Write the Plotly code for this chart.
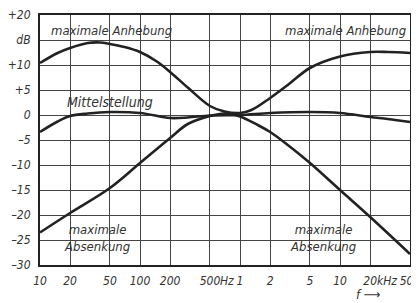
import math
import plotly.graph_objects as go

# ---- data ----
freq_boost = [10, 15, 20, 30, 40, 50, 70, 100, 150, 200, 300, 500, 700, 1000, 1300,
              2000, 3000, 5000, 10000, 20000, 30000, 50000]
gain_boost = [10.4, 12.4, 13.4, 14.4, 14.5, 14.2, 13.6, 12.6, 10.6, 8.6, 5.5, 1.8, 0.7,
              0.4, 1.0, 3.4, 6.0, 9.4, 11.7, 12.6, 12.6, 12.4]

freq_mid = [10, 15, 20, 30, 50, 100, 200, 300, 500, 1000, 2000, 5000, 10000, 20000,
            30000, 50000]
gain_mid = [-3.4, -1.3, -0.2, 0.3, 0.6, 0.4, -0.6, -0.5, -0.1, 0.0, 0.4, 0.6, 0.4,
            -0.4, -0.8, -1.4]

freq_cut = [10, 20, 50, 100, 200, 300, 500, 700, 1000, 1500, 2000, 3000, 5000, 10000,
            20000, 50000]
gain_cut = [-23.5, -19.6, -14.6, -9.6, -4.6, -1.8, -0.2, 0.3, -0.3, -2.0, -3.4, -6.0,
            -9.6, -15.0, -20.4, -27.8]

x_tickvals = [10, 20, 50, 100, 200, 500, 1000, 2000, 5000, 10000, 20000, 50000]
x_ticktext = ["10", "20", "50", "100", "200", "500", "1", "2", "5", "10", "20",
              "50\u00a0\u00a0"]
unit_labels = [("Hz", 500, 8), ("kHz", 20000, 5)]
y_tickvals = [-30, -25, -20, -15, -10, -5, 0, 5, 10, 15, 20]
y_ticktext = ["\u201330", "\u201325", "\u201320", "\u201315", "\u201310", "\u20135", "0",
              "+5", "+10", "dB", "+20"]

FONT = "Liberation Sans Narrow, DejaVu Sans Condensed, Arial Narrow, sans-serif"
INK = "#222222"
TXT = "#333333"

fig = go.Figure()
for fx, gy in [(freq_boost, gain_boost), (freq_mid, gain_mid), (freq_cut, gain_cut)]:
    fig.add_trace(go.Scatter(x=fx, y=gy, mode="lines",
                             line=dict(color=INK, width=2.6, shape="spline", smoothing=1.0),
                             hoverinfo="skip", showlegend=False))

# the page body has an 8px margin; the figure is sized so it fills the window
OFF = 8
W, H = 419 - OFF, 303 - OFF
PL, PR, PT, PB = 40, 409.7, 15, 265          # plot frame in window pixels
L, T = PL - OFF, PT - OFF
R, B = W - (PR - OFF), H - (PB - OFF)
pw, ph = PR - PL, PB - PT


def px(x):
    return (x - PL) / pw


def py(y):
    return (PB - y) / ph


# white label backgrounds (interrupt the grid like in the original)
boxes = [(46, 176, 17, 40), (281, 407, 17, 40), (64, 156, 94, 110),
         (60, 135, 217, 258), (285, 360, 217, 258)]
for x0, x1, y0, y1 in boxes:
    fig.add_shape(type="rect", xref="paper", yref="paper", x0=px(x0), x1=px(x1),
                  y0=py(y1), y1=py(y0), fillcolor="white", line_width=0, layer="between")

labels = [("maximale Anhebung", 111, 30, 13),
          ("maximale Anhebung", 345, 30, 13),
          ("Mittelstellung", 110, 102, 14),
          ("maximale<br>Absenkung", 97, 238, 13),
          ("maximale<br>Absenkung", 323, 238, 13)]
for txt, x, y, s in labels:
    fig.add_annotation(text=txt, xref="paper", yref="paper", x=px(x), y=py(y),
                       xanchor="center", yanchor="middle", showarrow=False,
                       font=dict(family=FONT, size=s, color=TXT, style="italic"))

# unit suffixes placed right after the tick numbers
for unit, f, sh in unit_labels:
    fig.add_annotation(text=unit, xref="x", yref="paper", x=math.log10(f), y=0,
                       xanchor="left", yanchor="top", xshift=sh, yshift=-7,
                       showarrow=False,
                       font=dict(family=FONT, size=12, color=TXT, style="italic"))

fig.add_annotation(text="f \u27f6", xref="paper", yref="paper", x=px(354), y=py(294),
                   xanchor="left", yanchor="middle", showarrow=False,
                   font=dict(family=FONT, size=13, color=TXT, style="italic"))

fig.update_xaxes(type="log", range=[1, math.log10(50000)], tickvals=x_tickvals,
                 ticktext=x_ticktext, showgrid=True, gridcolor="#444444", gridwidth=1.3,
                 showline=True, mirror=True, linecolor=INK, linewidth=2, ticks="",
                 zeroline=False, ticklabelstandoff=4, tickangle=0, automargin=False,
                 ticklabeloverflow="allow",
                 tickfont=dict(family=FONT, size=12, color=TXT, style="italic"))
fig.update_yaxes(range=[-30, 20], tickvals=y_tickvals, ticktext=y_ticktext,
                 showgrid=True, gridcolor="#444444", gridwidth=1.3,
                 showline=True, mirror=True, linecolor=INK, linewidth=2, ticks="",
                 zeroline=False, ticklabelstandoff=5, automargin=False,
                 ticklabeloverflow="allow",
                 tickfont=dict(family=FONT, size=12, color=TXT, style="italic"))

fig.update_layout(width=W, height=H, margin=dict(l=L, r=R, t=T, b=B, pad=0),
                  paper_bgcolor="white", plot_bgcolor="white")

fig.write_html("out.html")
